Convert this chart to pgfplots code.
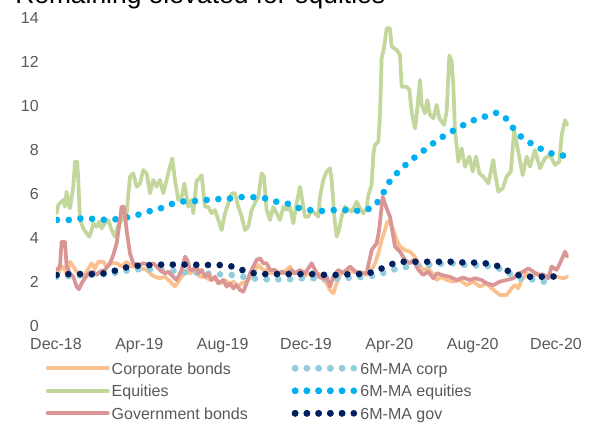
\documentclass[border=0pt]{standalone}
\usepackage{fontspec}
\setmainfont{Liberation Sans}
\usepackage{pgfplots}
\pgfplotsset{compat=1.18}

\definecolor{corp}{HTML}{FAC090}
\definecolor{equ}{HTML}{C3D69B}
\definecolor{gov}{HTML}{D99694}
\definecolor{macorp}{HTML}{93CDDD}
\definecolor{maequ}{HTML}{00B0F0}
\definecolor{magov}{HTML}{002060}
\definecolor{txtgray}{HTML}{595959}

\pgfplotsset{
  mline/.style={line width=2.8pt, line join=round, line cap=round},
  mdots/.style={line width=5pt, line cap=round, dash pattern=on 0pt off 8.8pt},
  legsolid/.style={legend image code/.code={\draw[##1,line cap=round] (0pt,0pt) -- (42pt,0pt); \path (0pt,0pt) -- (45pt,0pt);}},
  legdots/.style={legend image code/.code={\draw[##1] (0pt,0pt) -- (35.4pt,0pt); \path (0pt,0pt) -- (45pt,0pt);}},
}

\begin{document}
\begin{tikzpicture}
\begin{axis}[
  scale only axis,
  width=384.4pt, height=231pt,
  xmin=0, xmax=24.6,
  ymin=0, ymax=14,
  axis line style={draw=none},
  tick style={draw=none},
  xtick={0,4,8,12,16,20,24},
  xticklabels={Dec-18,Apr-19,Aug-19,Dec-19,Apr-20,Aug-20,Dec-20},
  ytick={0,2,4,6,8,10,12,14},
  /pgf/number format/assume math mode=true,
  tick label style={font=\fontsize{12}{14}\selectfont, text=txtgray},
  yticklabel style={anchor=east, inner sep=0pt, xshift=-12.75pt},
  xticklabel style={anchor=north, inner sep=0pt, yshift=-9pt},
  legend columns=2,
  legend cell align=left,
  legend style={at={(axis description cs:0,0)}, anchor=north west,
    xshift=-7.5pt, yshift=-27.4pt, draw=none, fill=none,
    inner sep=0pt, outer sep=0pt, row sep=8.3pt,
    font=\fontsize{12}{14}\selectfont, text=txtgray,
    nodes={inner sep=0pt, text height=8.6pt, text depth=0pt},
    /tikz/every odd column/.append style={column sep=1.5pt},
    /tikz/every even column/.append style={column sep=33pt}},
]
\coordinate (O) at (rel axis cs:0,0);

% Corporate bonds
\addplot[mline, corp, legsolid] coordinates {
 (0.03,2.24) (0.19,2.55) (0.35,2.70) (0.51,2.39) (0.67,2.92) (0.83,2.70)
 (0.99,2.47) (1.15,2.39) (1.31,2.24) (1.47,2.47) (1.71,2.85) (1.87,2.62)
 (2.03,2.92) (2.27,2.92) (2.43,2.70) (2.67,2.85) (2.91,2.85) (3.15,2.70)
 (3.39,2.92) (3.63,2.70) (3.87,2.70) (4.11,2.62) (4.35,2.55) (4.59,2.32)
 (4.75,2.24) (4.99,2.17) (5.23,2.24) (5.47,2.02) (5.71,1.79) (5.87,2.02)
 (6.03,2.24) (6.27,2.55) (6.43,2.39) (6.67,2.55) (6.91,2.24) (7.15,2.24)
 (7.39,2.09) (7.63,2.17) (7.87,1.94) (8.11,2.09) (8.35,1.86) (8.51,2.02)
 (8.75,1.79) (8.91,1.94) (9.15,2.02) (9.39,2.24) (9.55,2.55) (9.71,2.77)
 (9.95,2.55) (10.11,2.55) (10.35,2.39) (10.59,2.47) (10.83,2.39) (11.07,2.55)
 (11.23,2.70) (11.39,2.39) (11.63,2.47) (11.87,2.24) (12.11,2.39) (12.35,2.24)
 (12.59,2.39) (12.83,2.09) (12.99,1.94) (13.15,1.64) (13.31,1.48) (13.47,1.94)
 (13.71,2.47) (14.11,2.47) (14.59,2.47) (14.91,2.32) (15.15,2.55) (15.31,2.85)
 (15.47,3.30) (15.63,3.91) (15.79,4.36) (15.90,4.74) (16.03,4.74) (16.19,4.36)
 (16.35,3.91) (16.51,3.61) (16.75,3.45) (16.99,3.38) (17.23,3.15) (17.39,2.85)
 (17.63,2.55) (17.87,2.62) (18.11,2.32) (18.27,2.09) (18.51,2.24) (18.75,2.09)
 (19.07,2.02) (19.39,2.09) (19.71,1.86) (20.03,2.02) (20.35,1.79) (20.67,1.94)
 (20.99,1.64) (21.31,1.41) (21.63,1.41) (21.87,1.71) (22.03,1.86) (22.19,1.71)
 (22.35,2.09) (22.59,2.39) (22.83,2.24) (23.07,2.39) (23.39,2.24) (23.71,2.32)
 (24.03,2.24) (24.35,2.17) (24.54,2.24)};
\addlegendentry{Corporate bonds}

% 6M-MA corp
\addplot[mdots, macorp, legdots] coordinates {
 (0.03,2.24) (1.30,2.30) (2.54,2.36) (3.15,2.47) (3.76,2.58) (4.40,2.58)
 (5.04,2.55) (5.68,2.51) (6.32,2.42) (6.91,2.42) (7.55,2.35) (8.19,2.35)
 (8.80,2.27) (9.35,2.17) (9.95,2.12) (11.20,2.12) (11.82,2.17) (12.47,2.17)
 (13.10,2.14) (13.74,2.17) (14.30,2.20) (14.91,2.24) (15.47,2.32) (15.98,2.51)
 (16.55,2.65) (17.15,2.73) (17.79,2.77) (18.40,2.82) (19.02,2.85) (19.63,2.77)
 (20.67,2.73) (21.23,2.62) (21.76,2.39) (22.27,2.17) (22.83,2.12) (23.39,2.02)
 (23.95,1.95)};
\addlegendentry{6M-MA corp}

% Equities
\addplot[mline, equ, legsolid] coordinates {
 (0.03,5.12) (0.11,5.50) (0.27,5.65) (0.35,5.73) (0.43,5.42) (0.51,6.10)
 (0.59,5.65) (0.67,5.35) (0.83,6.33) (0.91,7.47) (1.02,7.47) (1.07,6.64)
 (1.15,4.82) (1.31,4.44) (1.47,4.21) (1.60,4.06) (1.71,4.36) (1.79,4.67)
 (1.95,4.51) (2.08,4.74) (2.19,4.44) (2.35,4.67) (2.51,4.82) (2.67,4.36)
 (2.83,4.06) (2.99,4.59) (3.15,4.82) (3.39,5.12) (3.55,6.79) (3.71,6.94)
 (3.87,6.33) (4.03,6.48) (4.19,7.09) (4.35,6.94) (4.51,6.03) (4.67,6.64)
 (4.83,6.33) (4.99,6.64) (5.15,6.03) (5.31,6.64) (5.47,7.24) (5.58,7.62)
 (5.71,6.64) (5.87,5.73) (6.03,5.88) (6.16,6.48) (6.35,5.42) (6.51,5.73)
 (6.59,5.12) (6.75,6.64) (6.83,6.64) (6.99,6.86) (7.15,5.42) (7.31,5.42)
 (7.47,5.12) (7.63,5.27) (7.79,4.82) (7.95,4.36) (8.11,5.12) (8.27,5.58)
 (8.43,6.03) (8.59,6.03) (8.75,5.42) (8.91,4.97) (9.07,4.36) (9.23,4.51)
 (9.39,5.27) (9.55,5.58) (9.71,5.88) (9.87,6.94) (9.98,6.79) (10.11,5.27)
 (10.27,4.82) (10.43,5.42) (10.59,5.12) (10.75,4.82) (10.91,5.42) (11.07,5.27)
 (11.23,5.42) (11.39,4.67) (11.55,5.58) (11.71,6.33) (11.79,5.88) (11.95,4.97)
 (12.11,4.97) (12.27,5.27) (12.43,5.12) (12.59,4.97) (12.67,5.88) (12.83,6.64)
 (12.99,7.02) (13.15,7.17) (13.23,6.64) (13.36,4.97) (13.47,4.06) (13.58,4.36)
 (13.71,4.97) (13.87,5.42) (13.95,5.35) (14.19,5.20) (14.43,5.65) (14.59,5.35)
 (14.75,5.12) (14.91,5.35) (14.99,5.95) (15.15,6.41) (15.23,7.77) (15.31,8.23)
 (15.47,8.38) (15.55,9.59) (15.63,12.17) (15.74,12.62) (15.87,13.53) (16.03,13.53)
 (16.11,12.70) (16.35,12.55) (16.51,12.32) (16.59,10.88) (16.83,10.88) (16.96,10.73)
 (17.07,9.74) (17.23,8.98) (17.31,9.59) (17.47,11.18) (17.55,10.05) (17.71,9.67)
 (17.82,10.27) (17.95,9.59) (18.11,9.44) (18.27,10.05) (18.40,9.44) (18.51,9.29)
 (18.62,9.14) (18.75,9.74) (18.88,12.30) (18.99,12.02) (19.07,10.95) (19.15,8.90)
 (19.31,7.47) (19.47,8.08) (19.63,7.24) (19.84,7.70) (20.00,7.02) (20.16,7.70)
 (20.32,6.94) (20.51,6.79) (20.75,6.48) (20.99,7.55) (21.07,6.94) (21.23,6.10)
 (21.44,6.26) (21.63,6.79) (21.83,7.02) (21.99,8.90) (22.14,8.15) (22.40,6.86)
 (22.59,7.70) (22.75,7.24) (22.99,8.00) (23.23,7.17) (23.47,7.62) (23.71,7.77)
 (23.95,7.32) (24.16,7.47) (24.27,8.68) (24.43,9.36) (24.54,9.14)};
\addlegendentry{Equities}

% 6M-MA equities
\addplot[mdots, maequ, legdots] coordinates {
 (0.05,4.82) (0.67,4.82) (1.30,4.90) (1.87,4.86) (2.45,4.82) (2.93,4.86)
 (3.50,4.95) (4.08,5.09) (4.66,5.27) (5.23,5.40) (5.66,5.59) (6.24,5.68)
 (6.86,5.68) (7.54,5.77) (8.16,5.77) (8.78,5.86) (9.41,5.86) (10.08,5.80)
 (10.61,5.64) (11.18,5.55) (11.66,5.36) (12.19,5.27) (12.77,5.23) (13.34,5.27)
 (14.02,5.27) (14.59,5.23) (15.17,5.36) (15.50,5.70) (15.84,6.27) (16.13,6.77)
 (16.56,7.10) (16.90,7.45) (17.38,7.77) (17.81,8.10) (18.24,8.40) (18.72,8.70)
 (19.20,8.95) (19.68,9.20) (20.16,9.40) (20.69,9.55) (21.17,9.70) (21.65,9.40)
 (21.94,9.00) (22.37,8.55) (22.85,8.27) (23.38,8.00) (23.90,7.80) (24.48,7.73)};
\addlegendentry{6M-MA equities}

% Government bonds
\addplot[mline, gov, legsolid] coordinates {
 (0.03,2.55) (0.19,2.70) (0.27,3.83) (0.43,3.83) (0.51,2.70) (0.67,2.39)
 (0.83,2.24) (0.99,1.79) (1.10,1.67) (1.23,1.94) (1.39,2.17) (1.55,2.39)
 (1.79,2.47) (1.95,2.32) (2.11,2.47) (2.35,2.55) (2.59,2.85) (2.75,3.23)
 (2.91,3.76) (3.07,4.82) (3.15,5.42) (3.26,5.42) (3.39,4.36) (3.55,3.30)
 (3.71,2.85) (3.95,2.77) (4.19,2.85) (4.51,2.77) (4.67,2.85) (4.83,2.70)
 (4.99,2.55) (5.23,2.39) (5.39,2.47) (5.63,2.24) (5.79,2.09) (6.03,2.55)
 (6.19,3.15) (6.30,3.00) (6.43,2.55) (6.59,2.55) (6.75,2.85) (6.83,2.39)
 (6.99,2.55) (7.15,2.24) (7.31,2.39) (7.47,2.09) (7.63,2.24) (7.79,1.94)
 (8.03,2.09) (8.19,1.79) (8.35,1.94) (8.51,1.71) (8.67,1.86) (8.83,1.64)
 (8.99,1.56) (9.15,1.94) (9.31,2.39) (9.47,2.70) (9.63,3.00) (9.79,3.08)
 (9.95,2.85) (10.11,2.85) (10.27,2.55) (10.51,2.55) (10.67,2.39) (10.83,2.47)
 (11.07,2.39) (11.31,2.55) (11.47,2.39) (11.71,2.55) (11.95,2.39) (12.27,2.85)
 (12.43,2.55) (12.62,2.24) (12.83,2.17) (12.99,2.24) (13.15,1.79) (13.31,2.24)
 (13.55,2.55) (13.78,2.40) (14.11,2.70) (14.40,2.45) (14.91,2.39) (15.15,3.45)
 (15.39,3.76) (15.50,4.30) (15.68,5.88) (15.87,5.35) (16.03,4.97) (16.27,3.61)
 (16.51,3.38) (16.75,3.00) (16.99,2.85) (17.14,3.00) (17.39,2.55) (17.63,2.32)
 (17.86,2.47) (18.11,2.17) (18.29,2.40) (18.58,2.30) (18.91,2.24) (19.23,2.09)
 (19.54,2.20) (19.87,2.09) (20.11,2.17) (20.43,2.09) (20.67,1.94) (20.99,1.86)
 (21.31,2.02) (21.63,2.09) (21.95,2.17) (22.19,2.39) (22.43,2.47) (22.67,2.62)
 (22.91,2.47) (23.15,2.32) (23.38,2.35) (23.63,2.17) (23.79,2.70) (24.03,2.55)
 (24.19,2.85) (24.43,3.38) (24.54,3.15)};
\addlegendentry{Government bonds}

% 6M-MA gov
\addplot[mdots, magov, legdots] coordinates {
 (0.03,2.32) (0.64,2.36) (1.31,2.36) (1.95,2.36) (2.56,2.42) (3.13,2.62)
 (3.76,2.73) (4.35,2.76) (4.94,2.79) (6.23,2.79) (7.44,2.77) (8.10,2.77)
 (8.64,2.67) (9.17,2.45) (9.78,2.36) (11.71,2.36) (12.30,2.36) (12.95,2.32)
 (13.58,2.32) (14.22,2.36) (14.88,2.36) (15.39,2.51) (15.90,2.73) (16.42,2.92)
 (19.02,2.92) (19.63,2.88) (20.27,2.88) (20.87,2.82) (21.39,2.67) (21.95,2.36)
 (22.55,2.24) (23.79,2.24) (24.38,2.29)};
\addlegendentry{6M-MA gov}
\end{axis}
\node[anchor=base west, inner sep=0pt, font=\fontsize{19.8}{22}\selectfont]
  at ([xshift=-30.75pt, yshift=241.5pt]O) {Remaining elevated for equities};
\pgfresetboundingbox
\path[use as bounding box] ([xshift=-42pt, yshift=-74.25pt]O) rectangle ([xshift=408pt, yshift=244.5pt]O);
\end{tikzpicture}
\end{document}
